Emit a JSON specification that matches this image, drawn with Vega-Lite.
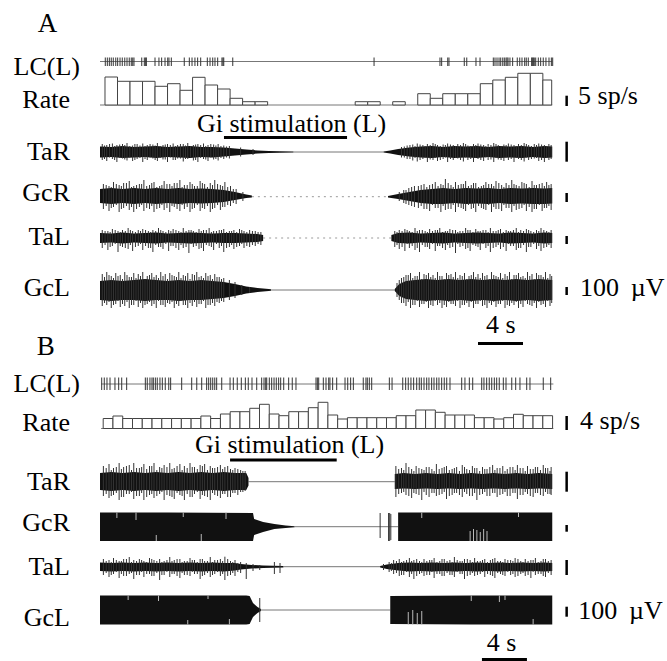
{
"$schema": "https://vega.github.io/schema/vega-lite/v6.json",
"width": 667, "height": 661, "padding": 0,
"autosize": {"type": "fit", "contains": "padding"},
"background": "white",
"config": {"view": {"stroke": null}},
"datasets": {
"lines": [
{"t0":0,"t1":40.2,"y":61.5},{"t0":0.1,"t1":40.3,"y":384},{"t0":0,"t1":40.2,"y":105},{"t0":0.1,"t1":40.3,"y":428.5},
{"t0":17.2,"t1":25.2,"y":152},{"t0":15.2,"t1":26.2,"y":290},{"t0":13.2,"t1":26.2,"y":481.7},{"t0":17.3,"t1":26.5,"y":526.7},{"t0":16.3,"t1":24.9,"y":566.7},{"t0":14.3,"t1":25.8,"y":610}
],
"dots": [{"t0":13.5,"t1":25.6,"y":196.7},{"t0":14.5,"t1":25.9,"y":238}],
"hist": [
{"t0":0.444,"t1":1.556,"y":77,"y2":105},{"t0":1.556,"t1":2.668,"y":81.3,"y2":105},{"t0":2.668,"t1":3.78,"y":81.3,"y2":105},{"t0":3.78,"t1":4.892,"y":81.3,"y2":105},{"t0":4.892,"t1":6.004,"y":86.3,"y2":105},{"t0":6.004,"t1":7.116,"y":83.7,"y2":105},{"t0":7.116,"t1":8.228,"y":90.3,"y2":105},{"t0":8.228,"t1":9.34,"y":77.3,"y2":105},{"t0":9.34,"t1":10.452,"y":85,"y2":105},{"t0":10.452,"t1":11.564,"y":89,"y2":105},{"t0":11.564,"t1":12.676,"y":98.3,"y2":105},{"t0":12.676,"t1":13.788,"y":101.7,"y2":105},{"t0":13.788,"t1":14.9,"y":101.7,"y2":105},
{"t0":22.684,"t1":23.796,"y":101.7,"y2":105},{"t0":23.796,"t1":24.908,"y":101.7,"y2":105},{"t0":26.02,"t1":27.132,"y":101.7,"y2":105},
{"t0":28.244,"t1":29.356,"y":93.7,"y2":105},{"t0":29.356,"t1":30.468,"y":98.3,"y2":105},{"t0":30.468,"t1":31.58,"y":93.7,"y2":105},{"t0":31.58,"t1":32.692,"y":93.7,"y2":105},{"t0":32.692,"t1":33.804,"y":93.7,"y2":105},{"t0":33.804,"t1":34.916,"y":83.7,"y2":105},{"t0":34.916,"t1":36.028,"y":80,"y2":105},{"t0":36.028,"t1":37.14,"y":77.3,"y2":105},{"t0":37.14,"t1":38.252,"y":73.3,"y2":105},{"t0":38.252,"t1":39.364,"y":73.3,"y2":105},{"t0":39.364,"t1":40.15,"y":80,"y2":105},
{"t0":0.284,"t1":1.152,"y":418.5,"y2":428.5},{"t0":1.152,"t1":2.021,"y":416,"y2":428.5},{"t0":2.021,"t1":2.889,"y":418.5,"y2":428.5},{"t0":2.889,"t1":3.758,"y":418.5,"y2":428.5},{"t0":3.758,"t1":4.626,"y":418.5,"y2":428.5},{"t0":4.626,"t1":5.494,"y":418.5,"y2":428.5},{"t0":5.494,"t1":6.363,"y":418.5,"y2":428.5},{"t0":6.363,"t1":7.231,"y":418.5,"y2":428.5},{"t0":7.231,"t1":8.1,"y":418.5,"y2":428.5},{"t0":8.1,"t1":8.968,"y":418.5,"y2":428.5},{"t0":8.968,"t1":9.836,"y":416,"y2":428.5},{"t0":9.836,"t1":10.705,"y":418.5,"y2":428.5},{"t0":10.705,"t1":11.573,"y":414,"y2":428.5},{"t0":11.573,"t1":12.442,"y":411.7,"y2":428.5},{"t0":12.442,"t1":13.31,"y":411.7,"y2":428.5},{"t0":13.31,"t1":14.178,"y":408.3,"y2":428.5},{"t0":14.178,"t1":15.047,"y":404.3,"y2":428.5},{"t0":15.047,"t1":15.915,"y":414,"y2":428.5},{"t0":15.915,"t1":16.784,"y":415.7,"y2":428.5},{"t0":16.784,"t1":17.652,"y":411.7,"y2":428.5},{"t0":17.652,"t1":18.52,"y":411.7,"y2":428.5},{"t0":18.52,"t1":19.389,"y":407.7,"y2":428.5},{"t0":19.389,"t1":20.257,"y":402.3,"y2":428.5},{"t0":20.257,"t1":21.126,"y":415,"y2":428.5},{"t0":21.126,"t1":21.994,"y":419,"y2":428.5},{"t0":21.994,"t1":22.862,"y":417.7,"y2":428.5},{"t0":22.862,"t1":23.731,"y":417.7,"y2":428.5},{"t0":23.731,"t1":24.599,"y":417.7,"y2":428.5},{"t0":24.599,"t1":25.468,"y":417.7,"y2":428.5},{"t0":25.468,"t1":26.336,"y":417.7,"y2":428.5},{"t0":26.336,"t1":27.204,"y":415.7,"y2":428.5},{"t0":27.204,"t1":28.073,"y":415.7,"y2":428.5},{"t0":28.073,"t1":28.941,"y":410,"y2":428.5},{"t0":28.941,"t1":29.81,"y":410,"y2":428.5},{"t0":29.81,"t1":30.678,"y":412.3,"y2":428.5},{"t0":30.678,"t1":31.546,"y":415,"y2":428.5},{"t0":31.546,"t1":32.415,"y":415,"y2":428.5},{"t0":32.415,"t1":33.283,"y":415,"y2":428.5},{"t0":33.283,"t1":34.152,"y":417.7,"y2":428.5},{"t0":34.152,"t1":35.02,"y":417.7,"y2":428.5},{"t0":35.02,"t1":35.888,"y":419,"y2":428.5},{"t0":35.888,"t1":36.757,"y":417.7,"y2":428.5},{"t0":36.757,"t1":37.625,"y":414.3,"y2":428.5},{"t0":37.625,"t1":38.494,"y":415.7,"y2":428.5},{"t0":38.494,"t1":39.362,"y":415.7,"y2":428.5},{"t0":39.362,"t1":40.23,"y":415.7,"y2":428.5}
],
"spkA": [{"t":0.47},{"t":0.65},{"t":0.83},{"t":1.0},{"t":1.18},{"t":1.4},{"t":1.57},{"t":1.78},{"t":1.98},{"t":2.2},{"t":2.4},{"t":2.6},{"t":2.78},{"t":2.91},{"t":3.02},{"t":3.71},{"t":3.94},{"t":4.06},{"t":4.12},{"t":4.89},{"t":5.24},{"t":5.48},{"t":5.78},{"t":6.02},{"t":6.13},{"t":6.34},{"t":7.49},{"t":7.94},{"t":8.18},{"t":8.44},{"t":8.68},{"t":8.95},{"t":9.54},{"t":9.78},{"t":10.02},{"t":10.22},{"t":10.46},{"t":10.84},{"t":10.93},{"t":11.0},{"t":11.8},{"t":24.36},{"t":30.22},{"t":30.37},{"t":30.91},{"t":31.02},{"t":32.38},{"t":32.6},{"t":33.42},{"t":33.78},{"t":34.96},{"t":35.11},{"t":35.29},{"t":35.47},{"t":35.62},{"t":35.8},{"t":35.94},{"t":36.09},{"t":36.18},{"t":36.27},{"t":36.44},{"t":36.68},{"t":37.09},{"t":37.31},{"t":37.51},{"t":37.75},{"t":37.89},{"t":38.07},{"t":38.37},{"t":38.43},{"t":38.52},{"t":38.6},{"t":38.73},{"t":38.96},{"t":39.17},{"t":39.4},{"t":39.64},{"t":39.91},{"t":40.12},{"t":40.24}],
"spkB": [{"t":0.15},{"t":0.38},{"t":0.62},{"t":0.89},{"t":1.33},{"t":1.66},{"t":1.93},{"t":2.37},{"t":4.03},{"t":4.2},{"t":4.44},{"t":4.62},{"t":4.74},{"t":4.92},{"t":5.09},{"t":5.33},{"t":5.54},{"t":5.8},{"t":6.11},{"t":6.28},{"t":7.26},{"t":8.15},{"t":8.6},{"t":9.04},{"t":9.48},{"t":9.66},{"t":9.84},{"t":10.02},{"t":10.2},{"t":10.37},{"t":10.82},{"t":11.56},{"t":11.85},{"t":12.2},{"t":12.56},{"t":12.92},{"t":13.18},{"t":13.51},{"t":13.93},{"t":14.37},{"t":14.58},{"t":14.73},{"t":14.82},{"t":15.05},{"t":15.26},{"t":15.47},{"t":15.67},{"t":15.88},{"t":16.06},{"t":16.33},{"t":16.77},{"t":17.09},{"t":17.42},{"t":19.2},{"t":19.32},{"t":19.44},{"t":19.85},{"t":20.09},{"t":20.33},{"t":20.44},{"t":20.68},{"t":21.04},{"t":21.78},{"t":22.02},{"t":22.28},{"t":22.52},{"t":23.4},{"t":23.64},{"t":23.76},{"t":23.94},{"t":24.15},{"t":25.72},{"t":25.96},{"t":26.91},{"t":27.17},{"t":27.4},{"t":27.64},{"t":27.88},{"t":28.15},{"t":28.38},{"t":28.56},{"t":28.8},{"t":29.04},{"t":29.24},{"t":29.48},{"t":29.69},{"t":29.93},{"t":30.13},{"t":30.37},{"t":30.6},{"t":30.82},{"t":31.11},{"t":32.15},{"t":32.44},{"t":32.83},{"t":33.13},{"t":33.93},{"t":34.13},{"t":34.37},{"t":34.6},{"t":34.82},{"t":35.05},{"t":35.26},{"t":35.49},{"t":35.85},{"t":36.09},{"t":36.6},{"t":36.95},{"t":37.33},{"t":37.93},{"t":38.22},{"t":39.4},{"t":40.06}],
"core": [
{"id":"aTaR1","t":0,"y":146.5,"y2":157.5},{"id":"aTaR1","t":1,"y":147,"y2":157},{"id":"aTaR1","t":2,"y":146,"y2":158},{"id":"aTaR1","t":3,"y":147,"y2":157.5},{"id":"aTaR1","t":4,"y":146.5,"y2":157},{"id":"aTaR1","t":5,"y":146,"y2":158},{"id":"aTaR1","t":6,"y":147,"y2":157},{"id":"aTaR1","t":7,"y":146.5,"y2":157.5},{"id":"aTaR1","t":8,"y":146,"y2":158},{"id":"aTaR1","t":9,"y":147,"y2":157},{"id":"aTaR1","t":10,"y":147,"y2":157.5},{"id":"aTaR1","t":11,"y":147.5,"y2":156.5},{"id":"aTaR1","t":12,"y":148.5,"y2":155.5},{"id":"aTaR1","t":13,"y":149.5,"y2":154.5},{"id":"aTaR1","t":14,"y":150.5,"y2":153.5},{"id":"aTaR1","t":15,"y":151,"y2":153},{"id":"aTaR1","t":16,"y":151.3,"y2":152.7},{"id":"aTaR1","t":17.2,"y":151.5,"y2":152.5},
{"id":"aTaR2","t":25.2,"y":151.5,"y2":152.5},{"id":"aTaR2","t":25.8,"y":150.5,"y2":153.5},{"id":"aTaR2","t":26.5,"y":149,"y2":155},{"id":"aTaR2","t":27.5,"y":147.5,"y2":156.5},{"id":"aTaR2","t":28.5,"y":146.5,"y2":157.5},{"id":"aTaR2","t":29.5,"y":146,"y2":158},{"id":"aTaR2","t":30.5,"y":147,"y2":157},{"id":"aTaR2","t":31.5,"y":146,"y2":158},{"id":"aTaR2","t":32.5,"y":146.5,"y2":157.5},{"id":"aTaR2","t":33.5,"y":146,"y2":158},{"id":"aTaR2","t":34.5,"y":147,"y2":157},{"id":"aTaR2","t":35.5,"y":146,"y2":158},{"id":"aTaR2","t":36.5,"y":146.5,"y2":157.5},{"id":"aTaR2","t":37.5,"y":146,"y2":158},{"id":"aTaR2","t":38.5,"y":147,"y2":157},{"id":"aTaR2","t":39.5,"y":146,"y2":158},{"id":"aTaR2","t":40.2,"y":146.5,"y2":157.5},
{"id":"aGcR1","t":0,"y":189,"y2":203},{"id":"aGcR1","t":1,"y":188,"y2":204},{"id":"aGcR1","t":2,"y":189,"y2":203},{"id":"aGcR1","t":3,"y":188,"y2":204},{"id":"aGcR1","t":4,"y":189,"y2":203},{"id":"aGcR1","t":5,"y":188,"y2":204},{"id":"aGcR1","t":6,"y":189,"y2":203},{"id":"aGcR1","t":7,"y":188,"y2":204},{"id":"aGcR1","t":8,"y":189,"y2":203},{"id":"aGcR1","t":9,"y":188.5,"y2":203.5},{"id":"aGcR1","t":10,"y":189,"y2":203},{"id":"aGcR1","t":11,"y":190,"y2":202},{"id":"aGcR1","t":12,"y":192,"y2":200},{"id":"aGcR1","t":13,"y":194.5,"y2":198},{"id":"aGcR1","t":13.5,"y":195.5,"y2":197.5},
{"id":"aGcR2","t":25.6,"y":196,"y2":197.5},{"id":"aGcR2","t":26.5,"y":194,"y2":199},{"id":"aGcR2","t":27.5,"y":192,"y2":201},{"id":"aGcR2","t":28.5,"y":190,"y2":203},{"id":"aGcR2","t":29.5,"y":189,"y2":204},{"id":"aGcR2","t":30.5,"y":188,"y2":204},{"id":"aGcR2","t":31.5,"y":189,"y2":203},{"id":"aGcR2","t":32.5,"y":188,"y2":204},{"id":"aGcR2","t":33.5,"y":188.5,"y2":203.5},{"id":"aGcR2","t":34.5,"y":188,"y2":204},{"id":"aGcR2","t":35.5,"y":189,"y2":203},{"id":"aGcR2","t":36.5,"y":188,"y2":204},{"id":"aGcR2","t":37.5,"y":188.5,"y2":203.5},{"id":"aGcR2","t":38.5,"y":188,"y2":204},{"id":"aGcR2","t":39.5,"y":188.5,"y2":204},{"id":"aGcR2","t":40.2,"y":188,"y2":203.5},
{"id":"aTaL1","t":0,"y":233,"y2":243},{"id":"aTaL1","t":1,"y":233.5,"y2":242.5},{"id":"aTaL1","t":2,"y":232.5,"y2":243.5},{"id":"aTaL1","t":3,"y":233.5,"y2":242.5},{"id":"aTaL1","t":4,"y":233,"y2":243},{"id":"aTaL1","t":5,"y":232.5,"y2":243.5},{"id":"aTaL1","t":6,"y":233.5,"y2":242.5},{"id":"aTaL1","t":7,"y":233,"y2":243},{"id":"aTaL1","t":8,"y":232.5,"y2":243.5},{"id":"aTaL1","t":9,"y":233,"y2":243},{"id":"aTaL1","t":10,"y":233.5,"y2":242.5},{"id":"aTaL1","t":11,"y":233,"y2":243},{"id":"aTaL1","t":12,"y":233,"y2":243},{"id":"aTaL1","t":13,"y":233.5,"y2":242.5},{"id":"aTaL1","t":14,"y":234,"y2":242},{"id":"aTaL1","t":14.5,"y":235,"y2":241},
{"id":"aTaL2","t":25.9,"y":235,"y2":241},{"id":"aTaL2","t":26.5,"y":233,"y2":243},{"id":"aTaL2","t":27.5,"y":232.5,"y2":243.5},{"id":"aTaL2","t":28.5,"y":233.5,"y2":242.5},{"id":"aTaL2","t":29.5,"y":233,"y2":243},{"id":"aTaL2","t":30.5,"y":232.5,"y2":243.5},{"id":"aTaL2","t":31.5,"y":233.5,"y2":242.5},{"id":"aTaL2","t":32.5,"y":233,"y2":243},{"id":"aTaL2","t":33.5,"y":232.5,"y2":243.5},{"id":"aTaL2","t":34.5,"y":233,"y2":243},{"id":"aTaL2","t":35.5,"y":233.5,"y2":242.5},{"id":"aTaL2","t":36.5,"y":232.5,"y2":243.5},{"id":"aTaL2","t":37.5,"y":233,"y2":243},{"id":"aTaL2","t":38.5,"y":233.5,"y2":242.5},{"id":"aTaL2","t":39.5,"y":232.5,"y2":243.5},{"id":"aTaL2","t":40.2,"y":233,"y2":243},
{"id":"aGcL1","t":0,"y":281,"y2":300},{"id":"aGcL1","t":1,"y":280,"y2":301},{"id":"aGcL1","t":2,"y":281,"y2":300},{"id":"aGcL1","t":3,"y":280,"y2":300},{"id":"aGcL1","t":4,"y":279,"y2":301},{"id":"aGcL1","t":5,"y":280,"y2":300},{"id":"aGcL1","t":6,"y":281,"y2":300},{"id":"aGcL1","t":7,"y":280,"y2":301},{"id":"aGcL1","t":8,"y":281,"y2":300},{"id":"aGcL1","t":9,"y":280,"y2":300},{"id":"aGcL1","t":10,"y":281,"y2":299},{"id":"aGcL1","t":11,"y":282,"y2":298},{"id":"aGcL1","t":12,"y":284,"y2":296},{"id":"aGcL1","t":13,"y":286.5,"y2":293.5},{"id":"aGcL1","t":14,"y":288,"y2":292},{"id":"aGcL1","t":15,"y":289,"y2":291},{"id":"aGcL1","t":15.2,"y":289.3,"y2":290.7},
{"id":"aGcL2","t":26.2,"y":289,"y2":291},{"id":"aGcL2","t":26.6,"y":284,"y2":296},{"id":"aGcL2","t":27.2,"y":281,"y2":299},{"id":"aGcL2","t":28,"y":280,"y2":300},{"id":"aGcL2","t":29,"y":279,"y2":301},{"id":"aGcL2","t":30,"y":280,"y2":300},{"id":"aGcL2","t":31,"y":279,"y2":301},{"id":"aGcL2","t":32,"y":280,"y2":300},{"id":"aGcL2","t":33,"y":279,"y2":301},{"id":"aGcL2","t":34,"y":280,"y2":300},{"id":"aGcL2","t":35,"y":279,"y2":301},{"id":"aGcL2","t":36,"y":280,"y2":300},{"id":"aGcL2","t":37,"y":279,"y2":301},{"id":"aGcL2","t":38,"y":280,"y2":300},{"id":"aGcL2","t":39,"y":279,"y2":301},{"id":"aGcL2","t":40.2,"y":280,"y2":300},
{"id":"bTaR1","t":0,"y":473,"y2":490},{"id":"bTaR1","t":1,"y":472,"y2":491},{"id":"bTaR1","t":2,"y":473,"y2":490},{"id":"bTaR1","t":3,"y":472,"y2":491},{"id":"bTaR1","t":4,"y":473,"y2":490},{"id":"bTaR1","t":5,"y":472,"y2":491},{"id":"bTaR1","t":6,"y":473,"y2":490},{"id":"bTaR1","t":7,"y":472,"y2":491},{"id":"bTaR1","t":8,"y":473,"y2":490},{"id":"bTaR1","t":9,"y":472,"y2":491},{"id":"bTaR1","t":10,"y":473,"y2":490},{"id":"bTaR1","t":11,"y":472,"y2":491},{"id":"bTaR1","t":12,"y":473,"y2":490},{"id":"bTaR1","t":13,"y":473,"y2":490},{"id":"bTaR1","t":13.2,"y":478,"y2":485.5},
{"id":"bTaR2","t":26.2,"y":474,"y2":489},{"id":"bTaR2","t":27,"y":473,"y2":488.5},{"id":"bTaR2","t":28,"y":474,"y2":489},{"id":"bTaR2","t":29,"y":473,"y2":488.5},{"id":"bTaR2","t":30,"y":474,"y2":489},{"id":"bTaR2","t":31,"y":473,"y2":488.5},{"id":"bTaR2","t":32,"y":474,"y2":489},{"id":"bTaR2","t":33,"y":473,"y2":488.5},{"id":"bTaR2","t":34,"y":474,"y2":489},{"id":"bTaR2","t":35,"y":473,"y2":488.5},{"id":"bTaR2","t":36,"y":474,"y2":489},{"id":"bTaR2","t":37,"y":473,"y2":488.5},{"id":"bTaR2","t":38,"y":474,"y2":489},{"id":"bTaR2","t":39,"y":473,"y2":488.5},{"id":"bTaR2","t":40.2,"y":474,"y2":489},
{"id":"bGcR1","t":0,"y":512.5,"y2":541},{"id":"bGcR1","t":6,"y":512.5,"y2":541},{"id":"bGcR1","t":13.6,"y":513,"y2":541},{"id":"bGcR1","t":13.7,"y":519,"y2":535},{"id":"bGcR1","t":14.5,"y":522,"y2":532},{"id":"bGcR1","t":15.5,"y":524,"y2":529},{"id":"bGcR1","t":16.5,"y":525.5,"y2":528},{"id":"bGcR1","t":17.3,"y":526.2,"y2":527.2},
{"id":"bGcR2","t":26.5,"y":512.5,"y2":541},{"id":"bGcR2","t":33,"y":512.5,"y2":541},{"id":"bGcR2","t":40.2,"y":512.5,"y2":541},
{"id":"bTaL1","t":0,"y":562.5,"y2":571},{"id":"bTaL1","t":1,"y":563,"y2":571.5},{"id":"bTaL1","t":2,"y":562.5,"y2":571},{"id":"bTaL1","t":3,"y":563,"y2":571.5},{"id":"bTaL1","t":4,"y":562.5,"y2":571},{"id":"bTaL1","t":5,"y":563,"y2":571.5},{"id":"bTaL1","t":6,"y":562.5,"y2":571},{"id":"bTaL1","t":7,"y":563,"y2":571.5},{"id":"bTaL1","t":8,"y":562.5,"y2":571},{"id":"bTaL1","t":9,"y":563,"y2":571.5},{"id":"bTaL1","t":10,"y":562.5,"y2":571},{"id":"bTaL1","t":11,"y":563,"y2":571.5},{"id":"bTaL1","t":12,"y":563,"y2":570.5},{"id":"bTaL1","t":12.5,"y":564,"y2":569.5},{"id":"bTaL1","t":13.5,"y":565,"y2":568.5},{"id":"bTaL1","t":14.5,"y":565.5,"y2":568},{"id":"bTaL1","t":16.3,"y":566,"y2":567.5},
{"id":"bTaL2","t":24.9,"y":566,"y2":567.5},{"id":"bTaL2","t":25.5,"y":564.5,"y2":569},{"id":"bTaL2","t":26.5,"y":563,"y2":570.5},{"id":"bTaL2","t":27.5,"y":562.5,"y2":571.5},{"id":"bTaL2","t":28.5,"y":563,"y2":571},{"id":"bTaL2","t":29.5,"y":562.5,"y2":571.5},{"id":"bTaL2","t":30.5,"y":563,"y2":571},{"id":"bTaL2","t":31.5,"y":562.5,"y2":571.5},{"id":"bTaL2","t":32.5,"y":563,"y2":571},{"id":"bTaL2","t":33.5,"y":562.5,"y2":571.5},{"id":"bTaL2","t":34.5,"y":563,"y2":571},{"id":"bTaL2","t":35.5,"y":562.5,"y2":571.5},{"id":"bTaL2","t":36.5,"y":563,"y2":571},{"id":"bTaL2","t":37.5,"y":562.5,"y2":571.5},{"id":"bTaL2","t":38.5,"y":563,"y2":571},{"id":"bTaL2","t":39.5,"y":562.5,"y2":571.5},{"id":"bTaL2","t":40.2,"y":563,"y2":571},
{"id":"bGcL1","t":0,"y":595.5,"y2":624.5},{"id":"bGcL1","t":7,"y":595.5,"y2":624.5},{"id":"bGcL1","t":13,"y":595.5,"y2":624.5},{"id":"bGcL1","t":13.3,"y":596,"y2":624},{"id":"bGcL1","t":13.6,"y":603,"y2":617},{"id":"bGcL1","t":14,"y":607,"y2":613},{"id":"bGcL1","t":14.3,"y":609,"y2":611},
{"id":"bGcL2","t":25.8,"y":596,"y2":624},{"id":"bGcL2","t":33,"y":595.5,"y2":624.5},{"id":"bGcL2","t":40.2,"y":595.5,"y2":624.5}
],
"emg": [
{"t":0.2,"y":144,"y2":160},{"t":0.6,"y":145,"y2":161},{"t":1.1,"y":143.5,"y2":159},{"t":1.5,"y":145,"y2":162},{"t":2.0,"y":144,"y2":158.5},{"t":2.4,"y":143,"y2":160.5},{"t":2.9,"y":145.5,"y2":161},{"t":3.3,"y":144,"y2":159},{"t":3.8,"y":143.5,"y2":162},{"t":4.2,"y":145,"y2":160},{"t":4.7,"y":144.5,"y2":158.5},{"t":5.1,"y":143,"y2":161},{"t":5.6,"y":145,"y2":159.5},{"t":6.0,"y":144,"y2":162},{"t":6.5,"y":143.5,"y2":160},{"t":6.9,"y":145,"y2":158.5},{"t":7.4,"y":144,"y2":161.5},{"t":7.8,"y":143,"y2":159},{"t":8.3,"y":145,"y2":160.5},{"t":8.7,"y":144,"y2":162},{"t":9.2,"y":143.5,"y2":159},{"t":9.6,"y":145,"y2":161},{"t":10.1,"y":144.5,"y2":159.5},{"t":10.5,"y":144,"y2":160.5},{"t":11.0,"y":145.5,"y2":159},{"t":11.5,"y":146,"y2":158.5},{"t":12.5,"y":147.5,"y2":156.5},{"t":13.6,"y":149,"y2":155},
{"t":0.4,"y":145.5,"y2":159},{"t":0.85,"y":144,"y2":157.5},{"t":1.3,"y":146,"y2":160},{"t":1.75,"y":144.5,"y2":158},{"t":2.2,"y":145,"y2":159.5},{"t":2.65,"y":146,"y2":157.5},{"t":3.1,"y":144,"y2":160},{"t":3.55,"y":145.5,"y2":158},{"t":4.0,"y":146,"y2":159},{"t":4.45,"y":144,"y2":157.5},{"t":4.9,"y":145.5,"y2":160},{"t":5.35,"y":146,"y2":158},{"t":5.8,"y":144.5,"y2":159.5},{"t":6.25,"y":145,"y2":157.5},{"t":6.7,"y":146,"y2":160},{"t":7.15,"y":144,"y2":158.5},{"t":7.6,"y":145.5,"y2":159},{"t":8.05,"y":146,"y2":157.5},{"t":8.5,"y":144.5,"y2":160},{"t":8.95,"y":145,"y2":158},{"t":9.4,"y":146,"y2":159.5},{"t":9.85,"y":144,"y2":157.5},{"t":10.3,"y":145.5,"y2":159},{"t":10.75,"y":146,"y2":158},{"t":11.25,"y":146.5,"y2":157.5},
{"t":26.8,"y":147,"y2":157.5},{"t":27.3,"y":145.5,"y2":159},{"t":27.8,"y":144.5,"y2":160.5},{"t":28.2,"y":143.5,"y2":161.5},{"t":28.7,"y":145,"y2":159},{"t":29.1,"y":144,"y2":162},{"t":29.6,"y":143,"y2":160},{"t":30.0,"y":145,"y2":161},{"t":30.5,"y":144.5,"y2":159},{"t":30.9,"y":143.5,"y2":162},{"t":31.4,"y":145,"y2":160},{"t":31.8,"y":144,"y2":158.5},{"t":32.3,"y":143,"y2":161.5},{"t":32.7,"y":145.5,"y2":160},{"t":33.2,"y":144,"y2":162},{"t":33.6,"y":143.5,"y2":159},{"t":34.1,"y":145,"y2":161},{"t":34.5,"y":144,"y2":160},{"t":35.0,"y":143,"y2":162},{"t":35.4,"y":145,"y2":159.5},{"t":35.9,"y":144.5,"y2":161},{"t":36.3,"y":143.5,"y2":160},{"t":36.8,"y":145,"y2":162},{"t":37.2,"y":144,"y2":159},{"t":37.7,"y":143,"y2":161.5},{"t":38.1,"y":145,"y2":160},{"t":38.6,"y":144,"y2":158.5},{"t":39.0,"y":143.5,"y2":161},{"t":39.5,"y":145,"y2":162},{"t":39.9,"y":144,"y2":160},
{"t":27.05,"y":146.5,"y2":157.5},{"t":27.55,"y":145,"y2":159},{"t":28.0,"y":146,"y2":158},{"t":28.45,"y":144.5,"y2":160},{"t":28.9,"y":146,"y2":157.5},{"t":29.35,"y":145,"y2":159.5},{"t":29.8,"y":144,"y2":158},{"t":30.25,"y":146,"y2":160},{"t":30.7,"y":145,"y2":157.5},{"t":31.15,"y":144.5,"y2":159},{"t":31.6,"y":146,"y2":158},{"t":32.05,"y":145,"y2":160},{"t":32.5,"y":144,"y2":157.5},{"t":32.95,"y":146,"y2":159},{"t":33.4,"y":145,"y2":158},{"t":33.85,"y":144.5,"y2":160},{"t":34.3,"y":146,"y2":157.5},{"t":34.75,"y":145,"y2":159.5},{"t":35.2,"y":144,"y2":158},{"t":35.65,"y":146,"y2":160},{"t":36.1,"y":145,"y2":157.5},{"t":36.55,"y":144.5,"y2":159},{"t":37.0,"y":146,"y2":158},{"t":37.45,"y":145,"y2":160},{"t":37.9,"y":144,"y2":157.5},{"t":38.35,"y":146,"y2":159},{"t":38.8,"y":145,"y2":158},{"t":39.25,"y":144.5,"y2":160},{"t":39.7,"y":146,"y2":157.5},{"t":40.1,"y":145,"y2":159},
{"t":0.3,"y":184,"y2":209},{"t":0.8,"y":186,"y2":211},{"t":1.2,"y":182,"y2":207},{"t":1.7,"y":185,"y2":212},{"t":2.1,"y":183,"y2":208},{"t":2.6,"y":181,"y2":210},{"t":3.0,"y":186,"y2":212},{"t":3.5,"y":184,"y2":207},{"t":3.9,"y":180,"y2":211},{"t":4.4,"y":185,"y2":209},{"t":4.8,"y":182,"y2":212},{"t":5.3,"y":186,"y2":208},{"t":5.7,"y":181,"y2":210},{"t":6.2,"y":184,"y2":212},{"t":6.6,"y":183,"y2":207},{"t":7.1,"y":180,"y2":211},{"t":7.5,"y":185,"y2":209},{"t":8.0,"y":182,"y2":212},{"t":8.4,"y":186,"y2":208},{"t":8.9,"y":181,"y2":211},{"t":9.3,"y":184,"y2":209},{"t":9.8,"y":183,"y2":212},{"t":10.2,"y":180,"y2":208},{"t":10.7,"y":185,"y2":210},{"t":11.1,"y":182,"y2":207},{"t":11.6,"y":186,"y2":206},{"t":12.1,"y":189,"y2":204},{"t":12.7,"y":192,"y2":201},
{"t":0.55,"y":185,"y2":206},{"t":1.0,"y":187,"y2":208},{"t":1.45,"y":184,"y2":205},{"t":1.9,"y":186,"y2":209},{"t":2.35,"y":183,"y2":206},{"t":2.8,"y":187,"y2":207},{"t":3.25,"y":185,"y2":209},{"t":3.7,"y":184,"y2":205},{"t":4.15,"y":186,"y2":208},{"t":4.6,"y":183,"y2":206},{"t":5.05,"y":187,"y2":209},{"t":5.5,"y":185,"y2":205},{"t":5.95,"y":184,"y2":208},{"t":6.4,"y":186,"y2":206},{"t":6.85,"y":183,"y2":209},{"t":7.3,"y":187,"y2":205},{"t":7.75,"y":185,"y2":207},{"t":8.2,"y":184,"y2":209},{"t":8.65,"y":186,"y2":205},{"t":9.1,"y":183,"y2":208},{"t":9.55,"y":187,"y2":206},{"t":10.0,"y":185,"y2":209},{"t":10.45,"y":184,"y2":205},{"t":10.9,"y":186,"y2":207},{"t":11.35,"y":187,"y2":205},{"t":11.85,"y":189,"y2":203},
{"t":26.6,"y":192,"y2":201},{"t":27.2,"y":190,"y2":204},{"t":27.7,"y":187,"y2":206},{"t":28.3,"y":186,"y2":208},{"t":28.8,"y":184,"y2":209},{"t":29.3,"y":185,"y2":211},{"t":29.8,"y":182,"y2":208},{"t":30.3,"y":184,"y2":212},{"t":30.7,"y":179,"y2":210},{"t":31.2,"y":185,"y2":209},{"t":31.6,"y":182,"y2":212},{"t":32.1,"y":184,"y2":208},{"t":32.5,"y":181,"y2":211},{"t":33.0,"y":185,"y2":209},{"t":33.4,"y":183,"y2":212},{"t":33.9,"y":186,"y2":208},{"t":34.3,"y":182,"y2":210},{"t":34.8,"y":184,"y2":212},{"t":35.2,"y":181,"y2":209},{"t":35.7,"y":185,"y2":211},{"t":36.1,"y":183,"y2":208},{"t":36.6,"y":180,"y2":212},{"t":37.0,"y":185,"y2":210},{"t":37.5,"y":182,"y2":208},{"t":37.9,"y":184,"y2":211},{"t":38.4,"y":181,"y2":212},{"t":38.8,"y":185,"y2":209},{"t":39.3,"y":183,"y2":211},{"t":39.7,"y":182,"y2":208},{"t":40.1,"y":184,"y2":210},
{"t":27.0,"y":190,"y2":203},{"t":27.45,"y":188,"y2":205},{"t":27.95,"y":186,"y2":207},{"t":28.55,"y":185,"y2":206},{"t":29.05,"y":187,"y2":209},{"t":29.55,"y":184,"y2":205},{"t":30.05,"y":186,"y2":208},{"t":30.5,"y":185,"y2":206},{"t":30.95,"y":183,"y2":209},{"t":31.4,"y":187,"y2":205},{"t":31.85,"y":185,"y2":207},{"t":32.3,"y":184,"y2":209},{"t":32.75,"y":186,"y2":205},{"t":33.2,"y":183,"y2":208},{"t":33.65,"y":187,"y2":206},{"t":34.1,"y":185,"y2":209},{"t":34.55,"y":184,"y2":205},{"t":35.0,"y":186,"y2":207},{"t":35.45,"y":183,"y2":209},{"t":35.9,"y":187,"y2":205},{"t":36.35,"y":185,"y2":208},{"t":36.8,"y":184,"y2":206},{"t":37.25,"y":186,"y2":209},{"t":37.7,"y":183,"y2":205},{"t":38.15,"y":187,"y2":207},{"t":38.6,"y":185,"y2":209},{"t":39.05,"y":184,"y2":205},{"t":39.5,"y":186,"y2":208},{"t":39.9,"y":185,"y2":206},
{"t":0.2,"y":230,"y2":248},{"t":0.7,"y":231,"y2":250},{"t":1.1,"y":229,"y2":246},{"t":1.6,"y":231,"y2":252},{"t":2.0,"y":230,"y2":247},{"t":2.5,"y":228,"y2":249},{"t":2.9,"y":231,"y2":251},{"t":3.4,"y":230,"y2":246},{"t":3.8,"y":229,"y2":250},{"t":4.3,"y":231,"y2":248},{"t":4.7,"y":230,"y2":252},{"t":5.2,"y":228,"y2":247},{"t":5.6,"y":231,"y2":249},{"t":6.1,"y":230,"y2":251},{"t":6.5,"y":229,"y2":246},{"t":7.0,"y":231,"y2":250},{"t":7.4,"y":228,"y2":248},{"t":7.9,"y":230,"y2":253},{"t":8.3,"y":231,"y2":247},{"t":8.8,"y":229,"y2":249},{"t":9.2,"y":230,"y2":251},{"t":9.7,"y":228,"y2":246},{"t":10.1,"y":231,"y2":250},{"t":10.6,"y":230,"y2":248},{"t":11.0,"y":229,"y2":252},{"t":11.5,"y":231,"y2":247},{"t":11.9,"y":230,"y2":249},{"t":12.4,"y":229,"y2":246},{"t":12.8,"y":231,"y2":248},{"t":13.3,"y":230,"y2":247},{"t":13.8,"y":231,"y2":246},{"t":14.3,"y":232,"y2":245},
{"t":0.45,"y":231,"y2":245},{"t":0.9,"y":232,"y2":247},{"t":1.35,"y":230,"y2":244},{"t":1.8,"y":232,"y2":246},{"t":2.25,"y":231,"y2":248},{"t":2.7,"y":230,"y2":245},{"t":3.15,"y":232,"y2":247},{"t":3.6,"y":231,"y2":244},{"t":4.05,"y":230,"y2":246},{"t":4.5,"y":232,"y2":248},{"t":4.95,"y":231,"y2":245},{"t":5.4,"y":230,"y2":247},{"t":5.85,"y":232,"y2":244},{"t":6.3,"y":231,"y2":246},{"t":6.75,"y":230,"y2":248},{"t":7.2,"y":232,"y2":245},{"t":7.65,"y":231,"y2":247},{"t":8.1,"y":230,"y2":244},{"t":8.55,"y":232,"y2":246},{"t":9.0,"y":231,"y2":248},{"t":9.45,"y":230,"y2":245},{"t":9.9,"y":232,"y2":247},{"t":10.35,"y":231,"y2":244},{"t":10.8,"y":230,"y2":246},{"t":11.25,"y":232,"y2":248},{"t":11.7,"y":231,"y2":245},{"t":12.15,"y":232,"y2":247},{"t":12.6,"y":230,"y2":244},{"t":13.05,"y":232,"y2":246},{"t":13.55,"y":231,"y2":245},{"t":14.05,"y":232,"y2":244},
{"t":26.2,"y":231,"y2":247},{"t":26.6,"y":230,"y2":249},{"t":27.1,"y":229,"y2":251},{"t":27.5,"y":231,"y2":248},{"t":28.0,"y":228,"y2":250},{"t":28.4,"y":230,"y2":252},{"t":28.9,"y":231,"y2":247},{"t":29.3,"y":229,"y2":249},{"t":29.8,"y":230,"y2":251},{"t":30.2,"y":228,"y2":246},{"t":30.7,"y":231,"y2":250},{"t":31.1,"y":229,"y2":248},{"t":31.6,"y":230,"y2":253},{"t":32.0,"y":231,"y2":247},{"t":32.5,"y":228,"y2":249},{"t":32.9,"y":230,"y2":251},{"t":33.4,"y":229,"y2":246},{"t":33.8,"y":231,"y2":250},{"t":34.3,"y":230,"y2":248},{"t":34.7,"y":228,"y2":252},{"t":35.2,"y":231,"y2":247},{"t":35.6,"y":229,"y2":249},{"t":36.1,"y":230,"y2":251},{"t":36.5,"y":231,"y2":246},{"t":37.0,"y":228,"y2":250},{"t":37.4,"y":230,"y2":248},{"t":37.9,"y":229,"y2":252},{"t":38.3,"y":231,"y2":247},{"t":38.8,"y":230,"y2":249},{"t":39.2,"y":228,"y2":251},{"t":39.7,"y":231,"y2":247},{"t":40.1,"y":230,"y2":248},
{"t":26.4,"y":232,"y2":245},{"t":26.85,"y":231,"y2":247},{"t":27.3,"y":230,"y2":244},{"t":27.75,"y":232,"y2":246},{"t":28.2,"y":231,"y2":248},{"t":28.65,"y":230,"y2":245},{"t":29.1,"y":232,"y2":247},{"t":29.55,"y":231,"y2":244},{"t":30.0,"y":230,"y2":246},{"t":30.45,"y":232,"y2":248},{"t":30.9,"y":231,"y2":245},{"t":31.35,"y":230,"y2":247},{"t":31.8,"y":232,"y2":244},{"t":32.25,"y":231,"y2":246},{"t":32.7,"y":230,"y2":248},{"t":33.15,"y":232,"y2":245},{"t":33.6,"y":231,"y2":247},{"t":34.05,"y":230,"y2":244},{"t":34.5,"y":232,"y2":246},{"t":34.95,"y":231,"y2":248},{"t":35.4,"y":230,"y2":245},{"t":35.85,"y":232,"y2":247},{"t":36.3,"y":231,"y2":244},{"t":36.75,"y":230,"y2":246},{"t":37.2,"y":232,"y2":248},{"t":37.65,"y":231,"y2":245},{"t":38.1,"y":230,"y2":247},{"t":38.55,"y":232,"y2":244},{"t":39.0,"y":231,"y2":246},{"t":39.45,"y":230,"y2":248},{"t":39.9,"y":232,"y2":245},
{"t":0.2,"y":274,"y2":306},{"t":0.6,"y":272,"y2":305},{"t":1.0,"y":276,"y2":308},{"t":1.4,"y":273,"y2":304},{"t":1.8,"y":275,"y2":307},{"t":2.2,"y":272,"y2":306},{"t":2.6,"y":277,"y2":308},{"t":3.0,"y":273,"y2":305},{"t":3.4,"y":274,"y2":307},{"t":3.8,"y":272,"y2":308},{"t":4.2,"y":276,"y2":304},{"t":4.6,"y":273,"y2":306},{"t":5.0,"y":275,"y2":308},{"t":5.4,"y":272,"y2":305},{"t":5.8,"y":274,"y2":307},{"t":6.2,"y":273,"y2":304},{"t":6.6,"y":276,"y2":308},{"t":7.0,"y":272,"y2":306},{"t":7.4,"y":275,"y2":305},{"t":7.8,"y":273,"y2":308},{"t":8.2,"y":274,"y2":306},{"t":8.6,"y":272,"y2":307},{"t":9.0,"y":276,"y2":304},{"t":9.4,"y":273,"y2":308},{"t":9.8,"y":275,"y2":305},{"t":10.2,"y":274,"y2":306},{"t":10.6,"y":277,"y2":303},{"t":11.0,"y":278,"y2":302},{"t":11.5,"y":280,"y2":300},{"t":12.0,"y":282,"y2":298},{"t":12.6,"y":285,"y2":295},{"t":13.3,"y":287,"y2":293},
{"t":0.4,"y":277,"y2":303},{"t":0.8,"y":275,"y2":302},{"t":1.2,"y":278,"y2":305},{"t":1.6,"y":276,"y2":301},{"t":2.0,"y":279,"y2":304},{"t":2.4,"y":275,"y2":302},{"t":2.8,"y":277,"y2":305},{"t":3.2,"y":278,"y2":301},{"t":3.6,"y":276,"y2":303},{"t":4.0,"y":279,"y2":305},{"t":4.4,"y":275,"y2":302},{"t":4.8,"y":277,"y2":304},{"t":5.2,"y":278,"y2":301},{"t":5.6,"y":276,"y2":305},{"t":6.0,"y":279,"y2":303},{"t":6.4,"y":275,"y2":302},{"t":6.8,"y":277,"y2":304},{"t":7.2,"y":278,"y2":301},{"t":7.6,"y":276,"y2":305},{"t":8.0,"y":279,"y2":303},{"t":8.4,"y":275,"y2":302},{"t":8.8,"y":277,"y2":304},{"t":9.2,"y":278,"y2":301},{"t":9.6,"y":276,"y2":305},{"t":10.0,"y":279,"y2":303},{"t":10.4,"y":277,"y2":302},{"t":10.8,"y":279,"y2":301},
{"t":26.4,"y":283,"y2":297},{"t":26.8,"y":278,"y2":303},{"t":27.2,"y":275,"y2":306},{"t":27.6,"y":273,"y2":308},{"t":28.0,"y":276,"y2":305},{"t":28.4,"y":272,"y2":307},{"t":28.8,"y":274,"y2":304},{"t":29.2,"y":273,"y2":308},{"t":29.6,"y":275,"y2":306},{"t":30.0,"y":272,"y2":305},{"t":30.4,"y":276,"y2":308},{"t":30.8,"y":273,"y2":307},{"t":31.2,"y":274,"y2":304},{"t":31.6,"y":272,"y2":306},{"t":32.0,"y":275,"y2":308},{"t":32.4,"y":273,"y2":305},{"t":32.8,"y":276,"y2":307},{"t":33.2,"y":272,"y2":308},{"t":33.6,"y":274,"y2":304},{"t":34.0,"y":273,"y2":306},{"t":34.4,"y":275,"y2":308},{"t":34.8,"y":272,"y2":305},{"t":35.2,"y":276,"y2":307},{"t":35.6,"y":273,"y2":304},{"t":36.0,"y":274,"y2":308},{"t":36.4,"y":272,"y2":306},{"t":36.8,"y":275,"y2":305},{"t":37.2,"y":273,"y2":308},{"t":37.6,"y":276,"y2":307},{"t":38.0,"y":272,"y2":304},{"t":38.4,"y":274,"y2":306},{"t":38.8,"y":273,"y2":308},{"t":39.2,"y":275,"y2":305},{"t":39.6,"y":272,"y2":307},{"t":40.0,"y":274,"y2":306},
{"t":26.6,"y":280,"y2":300},{"t":27.0,"y":277,"y2":303},{"t":27.4,"y":275,"y2":302},{"t":27.8,"y":278,"y2":305},{"t":28.2,"y":276,"y2":301},{"t":28.6,"y":279,"y2":304},{"t":29.0,"y":275,"y2":302},{"t":29.4,"y":277,"y2":305},{"t":29.8,"y":278,"y2":301},{"t":30.2,"y":276,"y2":303},{"t":30.6,"y":279,"y2":305},{"t":31.0,"y":275,"y2":302},{"t":31.4,"y":277,"y2":304},{"t":31.8,"y":278,"y2":301},{"t":32.2,"y":276,"y2":305},{"t":32.6,"y":279,"y2":303},{"t":33.0,"y":275,"y2":302},{"t":33.4,"y":277,"y2":304},{"t":33.8,"y":278,"y2":301},{"t":34.2,"y":276,"y2":305},{"t":34.6,"y":279,"y2":303},{"t":35.0,"y":275,"y2":302},{"t":35.4,"y":277,"y2":304},{"t":35.8,"y":278,"y2":301},{"t":36.2,"y":276,"y2":305},{"t":36.6,"y":279,"y2":303},{"t":37.0,"y":275,"y2":302},{"t":37.4,"y":277,"y2":304},{"t":37.8,"y":278,"y2":301},{"t":38.2,"y":276,"y2":305},{"t":38.6,"y":279,"y2":303},{"t":39.0,"y":275,"y2":302},{"t":39.4,"y":277,"y2":304},{"t":39.8,"y":278,"y2":301},{"t":40.15,"y":276,"y2":303},
{"t":0.3,"y":466,"y2":496},{"t":0.8,"y":464,"y2":498},{"t":1.2,"y":468,"y2":495},{"t":1.7,"y":463,"y2":500},{"t":2.1,"y":467,"y2":497},{"t":2.6,"y":465,"y2":494},{"t":3.0,"y":463,"y2":499},{"t":3.5,"y":468,"y2":496},{"t":3.9,"y":464,"y2":500},{"t":4.4,"y":466,"y2":495},{"t":4.8,"y":463,"y2":498},{"t":5.3,"y":467,"y2":494},{"t":5.7,"y":465,"y2":500},{"t":6.2,"y":463,"y2":496},{"t":6.6,"y":468,"y2":499},{"t":7.1,"y":464,"y2":495},{"t":7.5,"y":466,"y2":500},{"t":8.0,"y":463,"y2":497},{"t":8.4,"y":467,"y2":494},{"t":8.9,"y":465,"y2":499},{"t":9.3,"y":464,"y2":496},{"t":9.8,"y":466,"y2":500},{"t":10.2,"y":468,"y2":495},{"t":10.7,"y":465,"y2":498},{"t":11.1,"y":467,"y2":494},{"t":11.6,"y":469,"y2":497},{"t":12.0,"y":468,"y2":493},{"t":12.5,"y":470,"y2":492},{"t":12.9,"y":471,"y2":491},
{"t":0.55,"y":468,"y2":494},{"t":1.0,"y":470,"y2":496},{"t":1.45,"y":467,"y2":493},{"t":1.9,"y":469,"y2":497},{"t":2.35,"y":466,"y2":494},{"t":2.8,"y":470,"y2":492},{"t":3.25,"y":468,"y2":496},{"t":3.7,"y":467,"y2":493},{"t":4.15,"y":469,"y2":497},{"t":4.6,"y":466,"y2":494},{"t":5.05,"y":470,"y2":496},{"t":5.5,"y":468,"y2":492},{"t":5.95,"y":467,"y2":495},{"t":6.4,"y":469,"y2":497},{"t":6.85,"y":466,"y2":493},{"t":7.3,"y":470,"y2":496},{"t":7.75,"y":468,"y2":494},{"t":8.2,"y":467,"y2":497},{"t":8.65,"y":469,"y2":492},{"t":9.1,"y":466,"y2":495},{"t":9.55,"y":470,"y2":497},{"t":10.0,"y":468,"y2":493},{"t":10.45,"y":467,"y2":496},{"t":10.9,"y":469,"y2":494},{"t":11.35,"y":466,"y2":497},{"t":11.8,"y":470,"y2":493},{"t":12.25,"y":469,"y2":495},{"t":12.7,"y":471,"y2":492},
{"t":26.3,"y":466,"y2":497},{"t":26.8,"y":468,"y2":493},{"t":27.2,"y":463,"y2":495},{"t":27.7,"y":469,"y2":498},{"t":28.1,"y":466,"y2":494},{"t":28.6,"y":469,"y2":500},{"t":29.0,"y":467,"y2":495},{"t":29.5,"y":469,"y2":493},{"t":29.9,"y":464,"y2":496},{"t":30.4,"y":468,"y2":494},{"t":30.8,"y":466,"y2":499},{"t":31.3,"y":469,"y2":495},{"t":31.7,"y":467,"y2":493},{"t":32.2,"y":465,"y2":497},{"t":32.6,"y":469,"y2":494},{"t":33.1,"y":466,"y2":496},{"t":33.5,"y":468,"y2":500},{"t":34.0,"y":467,"y2":494},{"t":34.4,"y":469,"y2":496},{"t":34.9,"y":465,"y2":493},{"t":35.3,"y":468,"y2":497},{"t":35.8,"y":466,"y2":494},{"t":36.2,"y":469,"y2":496},{"t":36.7,"y":467,"y2":493},{"t":37.1,"y":465,"y2":499},{"t":37.6,"y":468,"y2":495},{"t":38.0,"y":466,"y2":494},{"t":38.5,"y":469,"y2":497},{"t":38.9,"y":467,"y2":493},{"t":39.4,"y":465,"y2":496},{"t":39.8,"y":468,"y2":494},{"t":40.1,"y":467,"y2":495},
{"t":26.55,"y":469,"y2":494},{"t":27.0,"y":470,"y2":492},{"t":27.45,"y":467,"y2":496},{"t":27.9,"y":471,"y2":493},{"t":28.35,"y":468,"y2":495},{"t":28.8,"y":470,"y2":492},{"t":29.25,"y":467,"y2":497},{"t":29.7,"y":471,"y2":493},{"t":30.15,"y":469,"y2":495},{"t":30.6,"y":467,"y2":492},{"t":31.05,"y":470,"y2":496},{"t":31.5,"y":468,"y2":493},{"t":31.95,"y":471,"y2":495},{"t":32.4,"y":467,"y2":492},{"t":32.85,"y":470,"y2":496},{"t":33.3,"y":468,"y2":493},{"t":33.75,"y":471,"y2":495},{"t":34.2,"y":469,"y2":492},{"t":34.65,"y":467,"y2":496},{"t":35.1,"y":470,"y2":493},{"t":35.55,"y":468,"y2":495},{"t":36.0,"y":471,"y2":492},{"t":36.45,"y":467,"y2":496},{"t":36.9,"y":470,"y2":493},{"t":37.35,"y":468,"y2":495},{"t":37.8,"y":471,"y2":492},{"t":38.25,"y":469,"y2":496},{"t":38.7,"y":467,"y2":493},{"t":39.15,"y":470,"y2":495},{"t":39.6,"y":468,"y2":492},{"t":40.0,"y":471,"y2":494},
{"t":24.9,"y":513,"y2":538},{"t":25.65,"y":513,"y2":541},{"t":25.75,"y":513,"y2":541},{"t":25.85,"y":514,"y2":540},
{"t":0.3,"y":559,"y2":575},{"t":0.8,"y":560,"y2":577},{"t":1.2,"y":558,"y2":574},{"t":1.7,"y":561,"y2":578},{"t":2.1,"y":559,"y2":576},{"t":2.6,"y":557,"y2":574},{"t":3.0,"y":560,"y2":579},{"t":3.5,"y":559,"y2":575},{"t":3.9,"y":561,"y2":577},{"t":4.4,"y":558,"y2":574},{"t":4.8,"y":560,"y2":576},{"t":5.3,"y":559,"y2":580},{"t":5.7,"y":561,"y2":575},{"t":6.2,"y":557,"y2":577},{"t":6.6,"y":560,"y2":574},{"t":7.1,"y":559,"y2":578},{"t":7.5,"y":561,"y2":575},{"t":8.0,"y":558,"y2":576},{"t":8.4,"y":560,"y2":574},{"t":8.9,"y":559,"y2":579},{"t":9.3,"y":561,"y2":575},{"t":9.8,"y":557,"y2":577},{"t":10.2,"y":560,"y2":574},{"t":10.7,"y":559,"y2":576},{"t":11.1,"y":556.7,"y2":580},{"t":11.6,"y":561,"y2":575},{"t":12.0,"y":560,"y2":576},{"t":12.5,"y":562,"y2":573},{"t":13.0,"y":563,"y2":579},{"t":13.6,"y":564,"y2":571},{"t":14.2,"y":565,"y2":570},{"t":15.5,"y":562,"y2":574},{"t":16.0,"y":563,"y2":573},
{"t":0.55,"y":561,"y2":573},{"t":1.0,"y":562,"y2":575},{"t":1.45,"y":560,"y2":572},{"t":1.9,"y":561,"y2":574},{"t":2.35,"y":559,"y2":576},{"t":2.8,"y":562,"y2":573},{"t":3.25,"y":561,"y2":575},{"t":3.7,"y":560,"y2":572},{"t":4.15,"y":562,"y2":574},{"t":4.6,"y":559,"y2":576},{"t":5.05,"y":561,"y2":573},{"t":5.5,"y":562,"y2":575},{"t":5.95,"y":560,"y2":572},{"t":6.4,"y":561,"y2":574},{"t":6.85,"y":559,"y2":576},{"t":7.3,"y":562,"y2":573},{"t":7.75,"y":561,"y2":575},{"t":8.2,"y":560,"y2":572},{"t":8.65,"y":562,"y2":574},{"t":9.1,"y":559,"y2":576},{"t":9.55,"y":561,"y2":573},{"t":10.0,"y":562,"y2":575},{"t":10.45,"y":560,"y2":572},{"t":10.9,"y":561,"y2":574},{"t":11.35,"y":559,"y2":576},{"t":11.8,"y":562,"y2":573},{"t":12.25,"y":563,"y2":572},
{"t":25.2,"y":564,"y2":570},{"t":25.7,"y":562,"y2":572},{"t":26.1,"y":560,"y2":574},{"t":26.6,"y":559,"y2":576},{"t":27.0,"y":561,"y2":575},{"t":27.5,"y":558,"y2":577},{"t":27.9,"y":560,"y2":579},{"t":28.4,"y":561,"y2":574},{"t":28.8,"y":559,"y2":576},{"t":29.3,"y":560,"y2":575},{"t":29.7,"y":558,"y2":578},{"t":30.2,"y":561,"y2":574},{"t":30.6,"y":559,"y2":576},{"t":31.1,"y":560,"y2":575},{"t":31.5,"y":557,"y2":577},{"t":32.0,"y":561,"y2":574},{"t":32.4,"y":559,"y2":579},{"t":32.9,"y":560,"y2":575},{"t":33.3,"y":558,"y2":576},{"t":33.8,"y":561,"y2":574},{"t":34.2,"y":559,"y2":577},{"t":34.7,"y":560,"y2":575},{"t":35.1,"y":558,"y2":578},{"t":35.6,"y":561,"y2":574},{"t":36.0,"y":559,"y2":576},{"t":36.5,"y":560,"y2":575},{"t":36.9,"y":558,"y2":577},{"t":37.4,"y":561,"y2":574},{"t":37.8,"y":559,"y2":576},{"t":38.3,"y":560,"y2":578},{"t":38.7,"y":558,"y2":575},{"t":39.2,"y":561,"y2":574},{"t":39.6,"y":559,"y2":577},{"t":40.1,"y":560,"y2":575},
{"t":25.9,"y":563,"y2":571},{"t":26.35,"y":561,"y2":573},{"t":26.8,"y":562,"y2":575},{"t":27.25,"y":560,"y2":572},{"t":27.7,"y":561,"y2":574},{"t":28.15,"y":559,"y2":576},{"t":28.6,"y":562,"y2":573},{"t":29.05,"y":561,"y2":575},{"t":29.5,"y":560,"y2":572},{"t":29.95,"y":562,"y2":574},{"t":30.4,"y":559,"y2":576},{"t":30.85,"y":561,"y2":573},{"t":31.3,"y":562,"y2":575},{"t":31.75,"y":560,"y2":572},{"t":32.2,"y":561,"y2":574},{"t":32.65,"y":559,"y2":576},{"t":33.1,"y":562,"y2":573},{"t":33.55,"y":561,"y2":575},{"t":34.0,"y":560,"y2":572},{"t":34.45,"y":562,"y2":574},{"t":34.9,"y":559,"y2":576},{"t":35.35,"y":561,"y2":573},{"t":35.8,"y":562,"y2":575},{"t":36.25,"y":560,"y2":572},{"t":36.7,"y":561,"y2":574},{"t":37.15,"y":559,"y2":576},{"t":37.6,"y":562,"y2":573},{"t":38.05,"y":561,"y2":575},{"t":38.5,"y":560,"y2":572},{"t":38.95,"y":562,"y2":574},{"t":39.4,"y":559,"y2":576},{"t":39.85,"y":561,"y2":573},
{"t":14.2,"y":598,"y2":622}
],
"gaps": [
{"t":1.5,"y":512.5,"y2":518},{"t":3.2,"y":512.5,"y2":520},{"t":5.0,"y":535,"y2":541},{"t":7.4,"y":512.5,"y2":517},{"t":9.0,"y":534,"y2":541},{"t":11.2,"y":512.5,"y2":519},
{"t":32.9,"y":531,"y2":541},{"t":33.2,"y":529,"y2":541},{"t":33.5,"y":530,"y2":541},{"t":33.8,"y":532,"y2":541},{"t":34.1,"y":529,"y2":541},{"t":34.4,"y":531,"y2":541},{"t":28.6,"y":512.5,"y2":518},{"t":37.2,"y":512.5,"y2":517},
{"t":2.5,"y":595.5,"y2":600},{"t":5.2,"y":595.5,"y2":601},{"t":7.8,"y":620,"y2":624.5},{"t":9.6,"y":595.5,"y2":599},{"t":11.5,"y":619,"y2":624.5},
{"t":27.4,"y":612,"y2":624.5},{"t":27.8,"y":610,"y2":624.5},{"t":28.2,"y":613,"y2":624.5},{"t":28.6,"y":611,"y2":624.5},{"t":33.0,"y":595.5,"y2":601},{"t":35.5,"y":595.5,"y2":602},{"t":36.0,"y":595.5,"y2":600},{"t":38.5,"y":619,"y2":624.5}
],
"vbar": [{"t":41.48,"y":95.7,"y2":106},{"t":41.48,"y":141.7,"y2":161.7},{"t":41.48,"y":193,"y2":202},{"t":41.48,"y":236,"y2":244},{"t":41.48,"y":287,"y2":295},{"t":41.48,"y":416,"y2":430},{"t":41.48,"y":471.7,"y2":491.7},{"t":41.48,"y":525,"y2":531.7},{"t":41.48,"y":560,"y2":575},{"t":41.48,"y":606.7,"y2":616.7}],
"hbar": [{"t0":11.02,"t1":21.96,"y":137.5},{"t0":11.56,"t1":21.04,"y":460},{"t0":33.6,"t1":37.6,"y":343.5},{"t0":33.95,"t1":37.95,"y":659.5}],
"labR": [{"txt":"LC(L)","t":-1.778,"y":75},{"txt":"Rate","t":-2.667,"y":108},{"txt":"TaR","t":-2.667,"y":160},{"txt":"GcR","t":-2.667,"y":201},{"txt":"TaL","t":-2.667,"y":244.5},{"txt":"GcL","t":-2.667,"y":295.5},{"txt":"LC(L)","t":-1.778,"y":392},{"txt":"Rate","t":-2.667,"y":431},{"txt":"TaR","t":-2.667,"y":490},{"txt":"GcR","t":-2.667,"y":531},{"txt":"TaL","t":-2.667,"y":575},{"txt":"GcL","t":-2.667,"y":626}],
"labL": [{"txt":"Gi stimulation (L)","t":8.62,"y":132},{"txt":"Gi stimulation (L)","t":8.44,"y":453},{"txt":"5 sp/s","t":42.49,"y":104},{"txt":"4 sp/s","t":42.67,"y":429},{"txt":"100\u2009 µV","t":42.67,"y":296},{"txt":"100\u2009 µV","t":42.52,"y":619}],
"labC": [{"txt":"4 s","t":35.63,"y":333},{"txt":"4 s","t":35.7,"y":651}],
"panel": [{"txt":"A","t":-4.67,"y":31.5},{"txt":"B","t":-4.82,"y":355}]
},
"layer": [
{"data":{"name":"lines"},"mark":{"type":"rule","color":"#777","strokeWidth":1},
 "encoding":{"x":{"field":"t0","type":"quantitative","scale":{"domain":[-8.889,50.4],"nice":false,"zero":false},"axis":null},"x2":{"field":"t1"},"y":{"field":"y","type":"quantitative","scale":{"domain":[0,661],"reverse":true,"nice":false,"zero":false},"axis":null}}},
{"data":{"name":"dots"},"mark":{"type":"rule","color":"#999","strokeWidth":1,"strokeDash":[2,4]},
 "encoding":{"x":{"field":"t0","type":"quantitative","axis":null},"x2":{"field":"t1"},"y":{"field":"y","type":"quantitative","axis":null}}},
{"data":{"name":"hist"},"mark":{"type":"bar","fill":"white","stroke":"#444","strokeWidth":1},
 "encoding":{"x":{"field":"t0","type":"quantitative","axis":null},"x2":{"field":"t1"},"y":{"field":"y","type":"quantitative","axis":null},"y2":{"field":"y2"}}},
{"data":{"name":"spkA"},"mark":{"type":"rule","color":"#333","strokeWidth":1},
 "encoding":{"x":{"field":"t","type":"quantitative","axis":null},"y":{"datum":57.5,"type":"quantitative","axis":null},"y2":{"datum":66}}},
{"data":{"name":"spkB"},"mark":{"type":"rule","color":"#333","strokeWidth":1},
 "encoding":{"x":{"field":"t","type":"quantitative","axis":null},"y":{"datum":377.5,"type":"quantitative","axis":null},"y2":{"datum":390}}},
{"data":{"name":"core"},"mark":{"type":"area","color":"#111","interpolate":"linear"},
 "encoding":{"x":{"field":"t","type":"quantitative","axis":null},"y":{"field":"y","type":"quantitative","axis":null},"y2":{"field":"y2"},"detail":{"field":"id","type":"nominal"}}},
{"data":{"name":"emg"},"mark":{"type":"rule","color":"#333","strokeWidth":1},
 "encoding":{"x":{"field":"t","type":"quantitative","axis":null},"y":{"field":"y","type":"quantitative","axis":null},"y2":{"field":"y2"}}},
{"data":{"name":"gaps"},"mark":{"type":"rule","color":"#bbb","strokeWidth":1},
 "encoding":{"x":{"field":"t","type":"quantitative","axis":null},"y":{"field":"y","type":"quantitative","axis":null},"y2":{"field":"y2"}}},
{"data":{"name":"vbar"},"mark":{"type":"rule","color":"black","strokeWidth":2.5},
 "encoding":{"x":{"field":"t","type":"quantitative","axis":null},"y":{"field":"y","type":"quantitative","axis":null},"y2":{"field":"y2"}}},
{"data":{"name":"hbar"},"mark":{"type":"rule","color":"black","strokeWidth":3},
 "encoding":{"x":{"field":"t0","type":"quantitative","axis":null},"x2":{"field":"t1"},"y":{"field":"y","type":"quantitative","axis":null}}},
{"data":{"name":"labR"},"mark":{"type":"text","font":"Liberation Serif","fontSize":26,"align":"right","baseline":"alphabetic","color":"black"},
 "encoding":{"x":{"field":"t","type":"quantitative","axis":null},"y":{"field":"y","type":"quantitative","axis":null},"text":{"field":"txt"}}},
{"data":{"name":"labL"},"mark":{"type":"text","font":"Liberation Serif","fontSize":26,"align":"left","baseline":"alphabetic","color":"black"},
 "encoding":{"x":{"field":"t","type":"quantitative","axis":null},"y":{"field":"y","type":"quantitative","axis":null},"text":{"field":"txt"}}},
{"data":{"name":"labC"},"mark":{"type":"text","font":"Liberation Serif","fontSize":26,"align":"center","baseline":"alphabetic","color":"black"},
 "encoding":{"x":{"field":"t","type":"quantitative","axis":null},"y":{"field":"y","type":"quantitative","axis":null},"text":{"field":"txt"}}},
{"data":{"name":"panel"},"mark":{"type":"text","font":"Liberation Serif","fontSize":27,"align":"center","baseline":"alphabetic","color":"black"},
 "encoding":{"x":{"field":"t","type":"quantitative","axis":null},"y":{"field":"y","type":"quantitative","axis":null},"text":{"field":"txt"}}}
]
}
